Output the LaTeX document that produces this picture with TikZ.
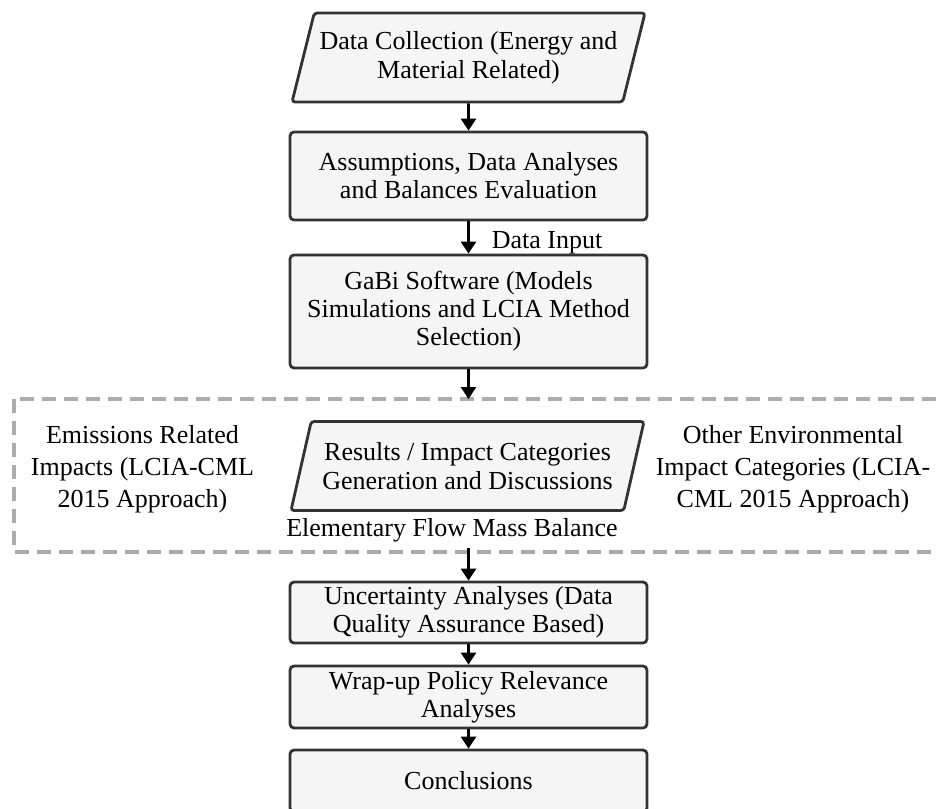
\documentclass[tikz,border=0pt]{standalone}
\usepackage{fontspec}
\setmainfont{Liberation Serif}
\usetikzlibrary{shapes.geometric, arrows.meta, positioning}

\begin{document}
\begin{tikzpicture}[x=0.5pt, y=-0.5pt,
  procbox/.style={rectangle, draw=black!80, fill=black!4, line width=1.4pt, rounded corners=2pt, minimum width=178.5pt, align=center, inner sep=1pt, font=\fontsize{13}{14}\selectfont},
  iobox/.style={trapezium, trapezium left angle=68.5, trapezium right angle=111.5, trapezium stretches body, draw=black!80, fill=black!4, line width=1.4pt, rounded corners=1.5pt, minimum width=176.5pt, minimum height=44.5pt, align=center, inner xsep=0pt, inner ysep=1pt, font=\fontsize{13}{14.5}\selectfont},
  sidetext/.style={align=center, font=\fontsize{13}{16}\selectfont},
  flow/.style={-{Triangle[width=7.5pt,length=6pt]}, line width=1.3pt}]
\useasboundingbox (0,0) rectangle (938,809);

% dashed frame round the results
\draw[gray!65, line width=1.6pt, dash pattern=on 7pt off 4pt] (14,399) rectangle (960,552);
\coordinate (frametop) at (468.5,399);
\coordinate (framebot) at (468.5,548);

\node[iobox] (collect) at (468.5,57.5) {Data Collection (Energy and\\Material Related)};
\node[procbox, minimum height=44pt] (assume) at (468.5,176) {Assumptions, Data Analyses\\and Balances Evaluation};
\node[procbox, minimum height=56.5pt] (gabi) at (468.5,311.5) {GaBi Software (Models\\Simulations and LCIA Method\\Selection)};
\node[font=\fontsize{13}{14}\selectfont] (input) at (547,243) {Data Input};

\node[iobox] (results) at (467.5,466) {Results / Impact Categories\\Generation and Discussions};
\node[sidetext] (emis) at (142.5,469) {Emissions Related\\Impacts (LCIA-CML\\2015 Approach)};
\node[sidetext] (other) at (793,469) {Other Environmental\\Impact Categories (LCIA-\\CML 2015 Approach)};
\node[font=\fontsize{13}{14}\selectfont] (mass) at (452,530) {Elementary Flow Mass Balance};

\node[procbox, minimum height=30.5pt] (uncert) at (468.5,612.5) {Uncertainty Analyses (Data\\Quality Assurance Based)};
\node[procbox, minimum height=31pt] (wrap) at (468.5,697) {Wrap-up Policy Relevance\\Analyses};
\node[procbox, minimum height=31pt] (concl) at (468.5,781) {Conclusions};

\draw[flow] (collect.south) -- (assume.north);
\draw[flow] (assume.south) -- (gabi.north);
\draw[flow] (gabi.south) -- (frametop);
\draw[flow] (framebot) -- (uncert.north);
\draw[flow] (uncert.south) -- (wrap.north);
\draw[flow] (wrap.south) -- (concl.north);
\end{tikzpicture}
\end{document}
